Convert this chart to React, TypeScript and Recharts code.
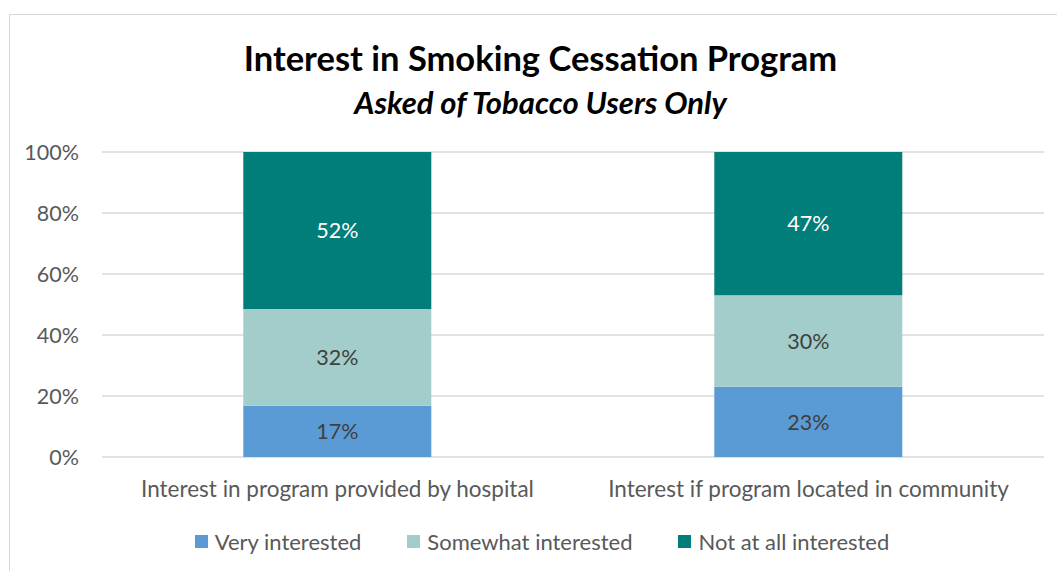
import React from 'react';
import { BarChart, Bar, XAxis, YAxis, CartesianGrid, Legend, LabelList } from 'recharts';

const categories = ['Interest in program provided by hospital', 'Interest if program located in community'];
const veryInterested = [17, 23];
const somewhatInterested = [32, 30];
const notAtAllInterested = [52, 47];
const yTicks = [0, 0.2, 0.4, 0.6, 0.8, 1];

const seriesNames = ['Very interested', 'Somewhat interested', 'Not at all interested'];
const seriesColors = ['#5B9BD5', '#A2CDCA', '#017E79'];
const labelColors = ['#404040', '#404040', '#FFFFFF'];

const data = categories.map((c, i) => ({
  name: c,
  very: veryInterested[i],
  somewhat: somewhatInterested[i],
  notAtAll: notAtAllInterested[i],
}));
const keys = ['very', 'somewhat', 'notAtAll'];

const FONT = 'Lato, "Open Sans", sans-serif';

const LegendContent = () => (
  <div style={{ display: 'flex', justifyContent: 'center', alignItems: 'center', height: 40, fontFamily: FONT, fontSize: 22, color: '#595959' }}>
    {seriesNames.map((n, i) => (
      <div key={n} style={{ display: 'flex', alignItems: 'center', marginRight: i < 2 ? 46 : 0 }}>
        <div style={{ width: 13, height: 13, background: seriesColors[i], marginRight: 7 }} />
        <span>{n}</span>
      </div>
    ))}
  </div>
);

export default function App() {
  return (
    <div style={{ position: 'absolute', left: 0, top: 0, width: 1057, height: 571, background: '#fff', overflow: 'hidden' }}>
      <div style={{ position: 'absolute', left: 9, top: 14, width: 1100, height: 600, borderTop: '1.5px solid #d9d9d9', borderLeft: '1.5px solid #d9d9d9' }} />
      <div style={{ position: 'absolute', left: 0, width: 1081, top: 36, textAlign: 'center', fontFamily: FONT, fontWeight: 700, fontSize: 34.5, color: '#000', lineHeight: '44px' }}>
        Interest in Smoking Cessation Program
      </div>
      <div style={{ position: 'absolute', left: 0, width: 1081, top: 83, textAlign: 'center', fontFamily: FONT, fontWeight: 700, fontStyle: 'italic', fontSize: 31, color: '#000', lineHeight: '38px' }}>
        Asked of Tobacco Users Only
      </div>
      <div style={{ position: 'absolute', left: 0, top: 0 }}>
        <BarChart
          width={1057}
          height={571}
          data={data}
          stackOffset="expand"
          barCategoryGap="30%"
          margin={{ top: 152, right: 13, left: 8, bottom: 10 }}
        >
          <CartesianGrid horizontal vertical={false} stroke="#d9d9d9" strokeWidth={1.5} />
          <XAxis
            dataKey="name"
            axisLine={false}
            tickLine={false}
            tickSize={0}
            tickMargin={24}
            height={64}
            interval={0}
            tick={{ fill: '#595959', fontSize: 22.5, fontFamily: FONT }}
          />
          <YAxis
            domain={[0, 1]}
            ticks={yTicks}
            tickFormatter={(v: number) => `${Math.round(v * 100)}%`}
            axisLine={false}
            tickLine={false}
            tickSize={0}
            tickMargin={23}
            width={94}
            tick={{ fill: '#595959', fontSize: 21.5, fontFamily: FONT }}
          />
          <Legend verticalAlign="bottom" content={<LegendContent />} wrapperStyle={{ left: 0, width: 1084 }} />
          {keys.map((k, i) => (
            <Bar key={k} dataKey={k} name={seriesNames[i]} stackId="a" fill={seriesColors[i]} isAnimationActive={false}>
              <LabelList
                dataKey={k}
                position="center"
                formatter={(v: number) => `${v}%`}
                fill={labelColors[i]}
                style={{ fontSize: 21.5, fontFamily: FONT }}
              />
            </Bar>
          ))}
        </BarChart>
      </div>
    </div>
  );
}
